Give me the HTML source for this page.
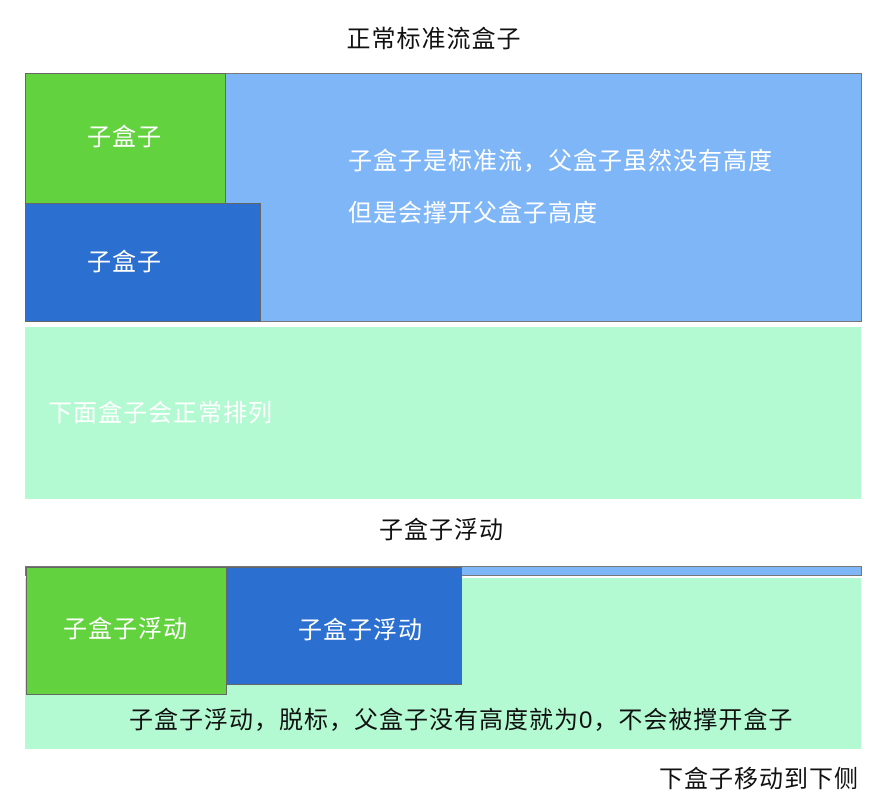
<!DOCTYPE html>
<html><head><meta charset="utf-8"><style>
body{margin:0;width:894px;height:804px;background:#fff;position:relative;overflow:hidden;font-family:"Liberation Sans","Noto Sans CJK SC",sans-serif}
div{position:absolute;box-sizing:border-box}
.t{font-size:24px;letter-spacing:1px;color:#111;white-space:nowrap;line-height:30px}
.w{color:#fff;font-size:24px;letter-spacing:1px;white-space:nowrap;line-height:30px}
</style></head><body>
<div class="t" style="left:0;width:868px;top:25px;text-align:center">正常标准流盒子</div>
<div style="left:25px;top:73px;width:837px;height:249px;background:#7fb6f7;border:1px solid #777"></div>
<div style="left:25px;top:73px;width:201px;height:131px;background:#62d33f;border:1px solid #666"></div>
<div class="w" style="left:87px;top:123px">子盒子</div>
<div style="left:25px;top:203px;width:236px;height:119px;background:#2b6fd0;border:1px solid #666"></div>
<div class="w" style="left:87px;top:248px">子盒子</div>
<div class="w" style="left:348px;top:136px;line-height:52px">子盒子是标准流，父盒子虽然没有高度<br>但是会撑开父盒子高度</div>
<div style="left:25px;top:327px;width:836px;height:172px;background:#b3fad2"></div>
<div class="w" style="left:48px;top:399px">下面盒子会正常排列</div>
<div class="t" style="left:379px;top:516px">子盒子浮动</div>
<div style="left:25px;top:566px;width:837px;height:10px;background:#7fb6f7;border:1px solid #777"></div>
<div style="left:25px;top:578px;width:836px;height:171px;background:#b3fad2"></div>
<div style="left:26px;top:567px;width:201px;height:128px;background:#62d33f;border:1px solid #666"></div>
<div class="w" style="left:63px;top:615px">子盒子浮动</div>
<div style="left:226px;top:567px;width:236px;height:118px;background:#2b6fd0;border:1px solid #666"></div>
<div class="w" style="left:298px;top:616px">子盒子浮动</div>
<div class="t" style="left:129px;top:706px">子盒子浮动，脱标，父盒子没有高度就为0，不会被撑开盒子</div>
<div class="t" style="left:659px;top:765px">下盒子移动到下侧</div>
</body></html>
